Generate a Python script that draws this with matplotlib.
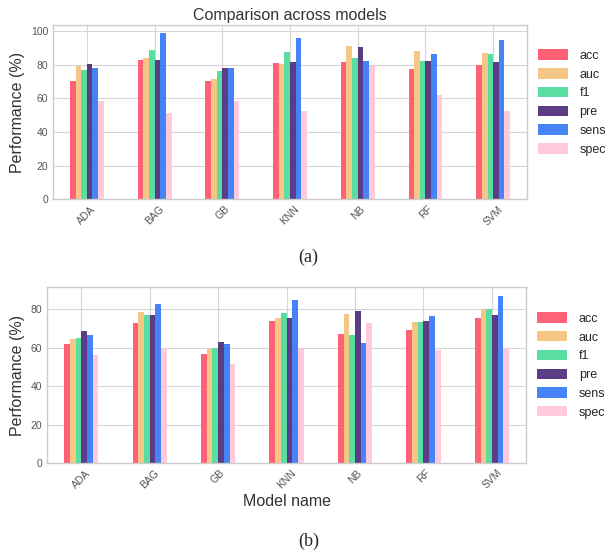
import numpy as np
import pandas as pd
import matplotlib
matplotlib.use("Agg")
import matplotlib.pyplot as plt

plt.style.use("seaborn-v0_8-whitegrid")
plt.rcParams["font.family"] = ["Liberation Sans", "DejaVu Sans"]

models = ["ADA", "BAG", "GB", "KNN", "NB", "RF", "SVM"]
metrics = ["acc", "auc", "f1", "pre", "sens", "spec"]
colors = ["#ff5a6c", "#f4c480", "#50dc9b", "#53317f", "#3b7cf6", "#ffc9db"]

# (a) values
acc_a = [70.2, 83.1, 70.2, 81.2, 81.7, 77.4, 80.0]
auc_a = [79.2, 84.3, 71.6, 80.4, 91.3, 88.1, 86.9]
f1_a = [76.8, 88.7, 76.2, 87.5, 84.3, 82.5, 86.3]
pre_a = [80.4, 83.1, 78.0, 81.9, 90.7, 82.5, 81.7]
sens_a = [78.0, 98.8, 78.0, 96.2, 82.5, 86.3, 94.6]
spec_a = [58.3, 51.2, 58.3, 52.6, 79.2, 61.9, 52.6]

# (b) values
acc_b = [62.1, 72.6, 56.9, 73.8, 66.9, 69.3, 75.3]
auc_b = [64.3, 78.8, 59.1, 75.3, 77.6, 73.6, 80.2]
f1_b = [64.8, 77.1, 59.7, 77.8, 66.4, 73.1, 80.2]
pre_b = [68.8, 77.1, 63.1, 75.3, 79.3, 74.1, 77.1]
sens_b = [66.4, 82.8, 62.1, 84.8, 62.6, 76.6, 87.1]
spec_b = [56.4, 59.8, 51.4, 59.1, 72.6, 58.6, 60.0]

df_a = pd.DataFrame(dict(zip(metrics, [acc_a, auc_a, f1_a, pre_a, sens_a, spec_a])), index=models)
df_b = pd.DataFrame(dict(zip(metrics, [acc_b, auc_b, f1_b, pre_b, sens_b, spec_b])), index=models)

fig = plt.figure(figsize=(6.05, 5.53), dpi=100)
ax1 = fig.add_axes([0.0876, 0.640, 0.7835, 0.3146])
ax2 = fig.add_axes([0.0777, 0.1627, 0.792, 0.318])

for ax, df in [(ax1, df_a), (ax2, df_b)]:
    df.plot(kind="bar", ax=ax, color=colors, width=0.5, alpha=0.95, edgecolor="none")
    ax.set_ylabel("Performance (%)", fontsize=11.5, color="#333333")
    ax.tick_params(axis="both", labelsize=7.5, colors="#555555")
    plt.setp(ax.get_xticklabels(), rotation=45, ha="center")
    ax.set_xlabel("")
    ax.grid(True, color="#d5d5d5", linewidth=0.8)
    for s in ax.spines.values():
        s.set_visible(True)
        s.set_color("#cccccc")
        s.set_linewidth(1.0)
    ax.legend(loc="center left", bbox_to_anchor=(1.0, 0.555), fontsize=9,
              frameon=False, handlelength=2.4, handleheight=0.9,
              handletextpad=0.9, labelspacing=0.5)

ax1.set_title("Comparison across models", fontsize=11.5, color="#333333", pad=4)
ax1.set_yticks([0, 20, 40, 60, 80, 100])
ax2.set_yticks([0, 20, 40, 60, 80])
ax2.set_xlabel("Model name", fontsize=11.5, color="#333333", labelpad=2)

fig.text(0.51, 1 - 257 / 553, "(a)", ha="center", va="center", family="Liberation Serif", fontsize=13)
fig.text(0.51, 1 - 541 / 553, "(b)", ha="center", va="center", family="Liberation Serif", fontsize=13)

fig.savefig("out.png", dpi=100)
